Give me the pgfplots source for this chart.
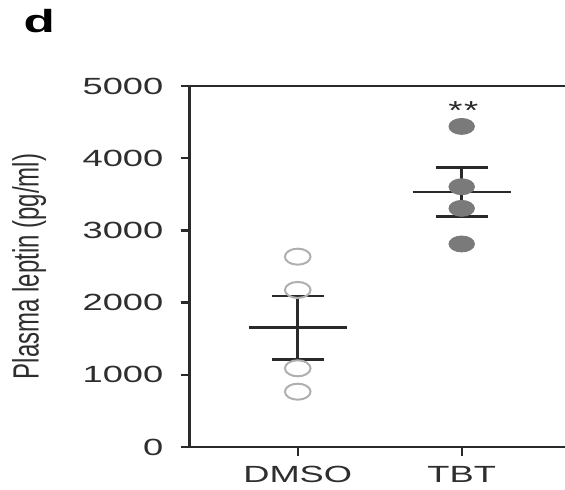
\documentclass[border=0pt]{standalone}
\usepackage{fontspec}
\setmainfont{Liberation Sans}
\usepackage{pgfplots}
\pgfplotsset{compat=1.18}
\definecolor{opengray}{HTML}{AFAFAF}
\definecolor{fillgray}{HTML}{7A7A7A}
\definecolor{axgray}{HTML}{2A2A2A}
\definecolor{txtgray}{HTML}{2E2E2E}
\begin{document}
\begin{tikzpicture}
\useasboundingbox (-94.75pt,-21.5pt) rectangle (187.75pt,223.5pt);
\begin{axis}[
  scale only axis,
  width=187.75pt, height=180.5pt,
  xmin=-0.66, xmax=1.63,
  ymin=0, ymax=5000,
  axis x line*=box,
  axis y line*=left,
  axis line style={axgray, line width=1.2pt},
  every tick/.style={axgray, line width=1.2pt},
  tick align=outside,
  major tick length=4.5pt,
  xtick pos=bottom,
  ytick pos=left,
  xtick={0,1},
  xticklabels={DMSO,TBT},
  ytick={0,1000,2000,3000,4000,5000},
  /pgf/number format/assume math mode=true,
  /pgf/number format/1000 sep={},
  tick label style={font=\fontsize{11.7pt}{14pt}\selectfont, text=txtgray},
  yticklabel style={xscale=1.55, xshift=-2pt},
  xticklabel style={xscale=1.55, yshift=-1.5pt},
  ylabel={Plasma leptin (pg/ml)},
  ylabel style={at={(axis description cs:-0.427,0.5)}, anchor=center,
    font=\fontsize{12pt}{14pt}\selectfont, text=txtgray, yscale=1.52},
  clip=false,
]
% DMSO individual values
\addplot[only marks, mark=o, mark size=4pt,
  mark options={draw=opengray, line width=1pt, xscale=1.6}]
  coordinates {(0,2636) (0,2175) (0,1090) (0,766)};
% TBT individual values
\addplot[only marks, mark=*, mark size=4pt,
  mark options={draw=fillgray, fill=fillgray, xscale=1.6}]
  coordinates {(1,4440) (1,3605) (1,3305) (1,2812)};
% means
\addplot[axgray, line width=1.4pt] coordinates {(-0.30,1653) (0.30,1653)};
\addplot[axgray, line width=1.4pt] coordinates {(0.70,3532) (1.30,3532)};
% SEM error bars
\addplot[draw=none, mark=none,
  error bars/.cd, y dir=both, y explicit,
  error bar style={axgray, line width=1.4pt},
  error mark options={rotate=90, mark size=13pt, line width=1.4pt, axgray}]
  coordinates {(0,1653) +- (0,438) (1,3532) +- (0,342)};
\node[font=\fontsize{13pt}{14pt}\selectfont, text=axgray, xscale=1.4] at (axis cs:1.01,4660) {*\kern0.5pt*};
\end{axis}
\node[anchor=base west, font=\fontsize{16pt}{18pt}\selectfont\bfseries, xscale=1.6, inner sep=0pt] at (-83.25pt,207pt) {d};
\end{tikzpicture}
\end{document}
